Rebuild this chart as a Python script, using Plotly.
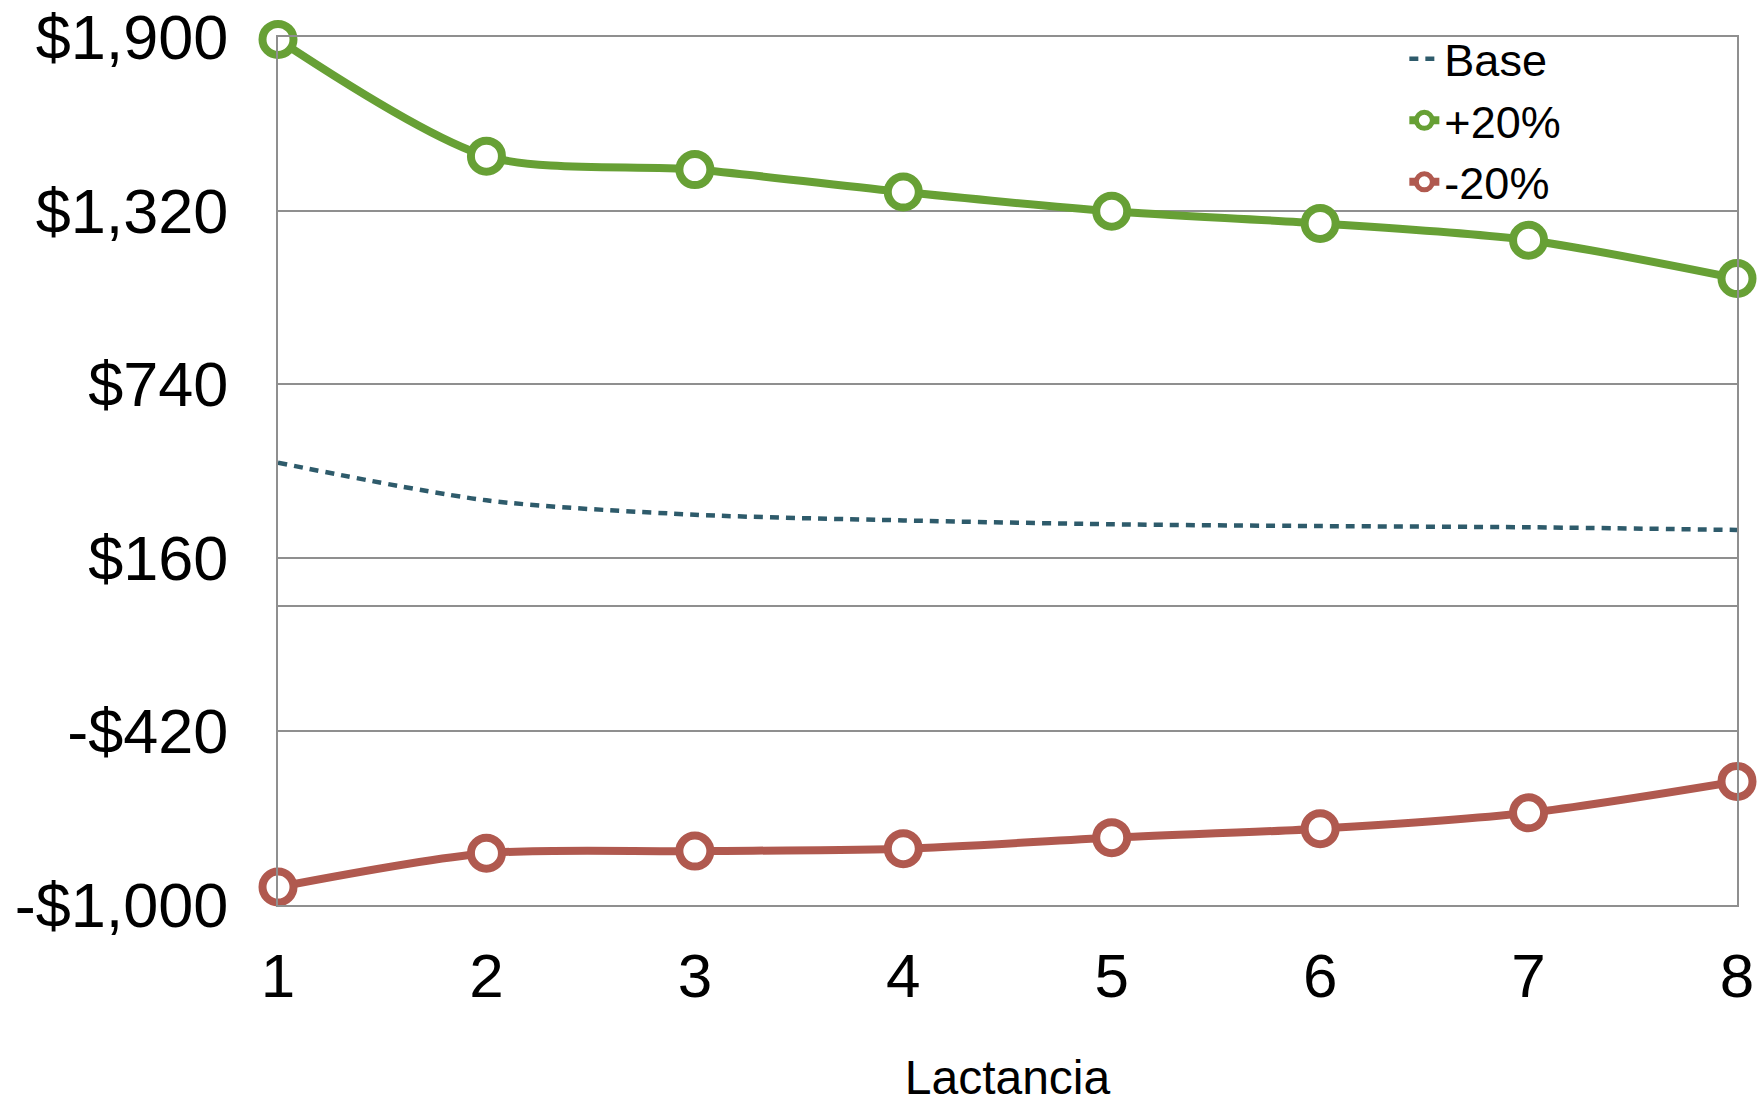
import plotly.graph_objects as go

lactancia = [1, 2, 3, 4, 5, 6, 7, 8]
base = [478, 352, 304, 285, 272, 266, 262, 253]
plus20 = [1892, 1502, 1457, 1382, 1318, 1277, 1221, 1093]
minus20 = [-940, -827, -820, -812, -775, -745, -692, -587]
y_ticks = [-1000, -420, 160, 740, 1320, 1900]
y_tick_text = ["-$1,000", "-$420", "$160", "$740", "$1,320", "$1,900"]

GREEN = "#67A035"
RED = "#B0594F"
TEAL = "#2E5B6B"
GRID = "#8F8F8F"
FONT = "Liberation Sans, Arial, sans-serif"

fig = go.Figure()
fig.add_trace(go.Scatter(
    x=lactancia, y=base, name="Base", mode="lines",
    line=dict(color=TEAL, width=4.5, dash="9px,7px", shape="spline", smoothing=0.8),
    cliponaxis=False,
))
fig.add_trace(go.Scatter(
    x=lactancia, y=plus20, name="+20%", mode="lines+markers",
    line=dict(color=GREEN, width=8, shape="spline", smoothing=0.8),
    marker=dict(symbol="circle", size=31, color="white", line=dict(color=GREEN, width=8)),
    cliponaxis=False,
))
fig.add_trace(go.Scatter(
    x=lactancia, y=minus20, name="-20%", mode="lines+markers",
    line=dict(color=RED, width=8, shape="spline", smoothing=0.8),
    marker=dict(symbol="circle", size=31, color="white", line=dict(color=RED, width=8)),
    cliponaxis=False,
))

fig.update_layout(
    width=1760, height=1104,
    margin=dict(l=278, r=23, t=37, b=199, autoexpand=False),
    paper_bgcolor="white", plot_bgcolor="white",
    font=dict(family=FONT, color="black"),
    showlegend=True,
    legend=dict(
        x=0.772, y=1.016, xanchor="left", yanchor="top",
        font=dict(size=45, family=FONT, color="black"),
        bgcolor="rgba(0,0,0,0)", borderwidth=0,
        itemwidth=30, tracegroupgap=0,
    ),
)
fig.update_xaxes(
    range=[1, 8], tickmode="array", tickvals=lactancia,
    ticktext=[str(v) for v in lactancia],
    tickfont=dict(size=62, family=FONT, color="black"),
    showgrid=False, zeroline=False, automargin=False,
    showline=True, linecolor=GRID, linewidth=2, mirror=True,
    ticks="", ticklabelstandoff=16,
    title=dict(text="Lactancia", font=dict(size=48, family=FONT, color="black"), standoff=60),
)
fig.update_yaxes(
    range=[-1000, 1900], tickmode="array", tickvals=y_ticks, ticktext=y_tick_text,
    tickfont=dict(size=63, family=FONT, color="black"),
    showgrid=True, gridcolor=GRID, gridwidth=2, automargin=False,
    zeroline=True, zerolinecolor=GRID, zerolinewidth=2,
    showline=True, linecolor=GRID, linewidth=2, mirror=True,
    ticks="", ticklabelstandoff=35,
)

fig.write_html("out.html")
